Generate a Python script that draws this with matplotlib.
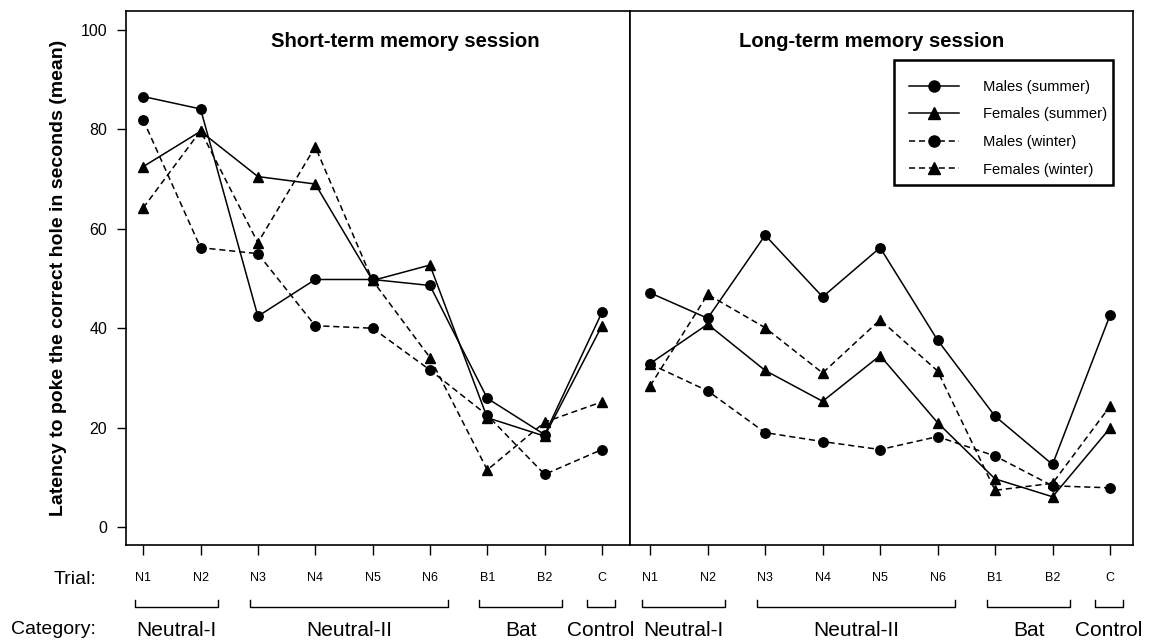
import matplotlib.pyplot as plt
from matplotlib.lines import Line2D
from matplotlib.patches import Rectangle

plt.rcParams['font.family'] = ['Liberation Sans', 'DejaVu Sans']

# Trials and categories
trials = ['N1', 'N2', 'N3', 'N4', 'N5', 'N6', 'B1', 'B2', 'C']
categories = ['Neutral-I', 'Neutral-II', 'Bat', 'Control']
category_trials = [[0, 1], [2, 3, 4, 5], [6, 7], [8]]

# Mean latency (s), short-term memory session
short_males_summer = [86.6, 84.1, 42.4, 49.8, 49.8, 48.6, 25.9, 18.6, 43.2]
short_females_summer = [72.5, 79.6, 70.5, 69.0, 49.6, 52.7, 22.0, 18.3, 40.5]
short_males_winter = [81.9, 56.2, 55.0, 40.5, 40.0, 31.6, 22.5, 10.6, 15.6]
short_females_winter = [64.2, 79.7, 57.2, 76.5, 49.6, 34.1, 11.5, 21.1, 25.2]

# Mean latency (s), long-term memory session
long_males_summer = [47.1, 42.0, 58.7, 46.3, 56.2, 37.6, 22.3, 12.6, 42.6]
long_females_summer = [32.9, 40.8, 31.5, 25.3, 34.5, 21.0, 9.7, 6.1, 19.9]
long_males_winter = [32.8, 27.4, 19.0, 17.2, 15.6, 18.2, 14.3, 8.3, 7.9]
long_females_winter = [28.4, 46.8, 40.1, 31.0, 41.7, 31.4, 7.4, 8.8, 24.3]

series_labels = ['Males (summer)', 'Females (summer)', 'Males (winter)', 'Females (winter)']
series_marker = ['o', '^', 'o', '^']
series_style = ['-', '-', (0, (4, 2.5)), (0, (4, 2.5))]

panels = [
    ('Short-term memory session',
     [short_males_summer, short_females_summer, short_males_winter, short_females_winter]),
    ('Long-term memory session',
     [long_males_summer, long_females_summer, long_males_winter, long_females_winter]),
]

fig = plt.figure(figsize=(11.51, 6.42), dpi=100)
gs = fig.add_gridspec(1, 2, left=126 / 1151, right=1133 / 1151,
                      bottom=1 - 545 / 642, top=1 - 11 / 642, wspace=0)
axes = [fig.add_subplot(gs[0, 0]), fig.add_subplot(gs[0, 1])]
xlims = [(-0.30, 8.48), (-0.36, 8.40)]
title_x = [0.554, 0.481]

x = list(range(len(trials)))
for i, (ax, (title, series)) in enumerate(zip(axes, panels)):
    for vals, lab, mk, ls in zip(series, series_labels, series_marker, series_style):
        ax.plot(x, vals, color='black', linestyle=ls, linewidth=1.1,
                marker=mk, markersize=7 if mk == '^' else 6.8, label=lab)
    ax.set_xlim(*xlims[i])
    ax.set_ylim(-3.6, 103.8)
    ax.set_xticks(x)
    ax.set_xticklabels(trials, fontsize=9)
    ax.tick_params(axis='x', direction='out', length=7.5, width=1.0, pad=12)
    for sp in ax.spines.values():
        sp.set_linewidth(1.2)
    ax.text(title_x[i], 0.942, title, transform=ax.transAxes, ha='center',
            va='center', fontsize=14.6, fontweight='bold')

    # category brackets under the trial labels
    tr = ax.get_xaxis_transform()
    y_top, y_bot = -0.103, -0.117
    for name, idx in zip(categories, category_trials):
        if len(idx) == 1:
            lo, hi = idx[0] - 0.26, idx[-1] + 0.23
        else:
            lo, hi = idx[0] - 0.14, idx[-1] + 0.31
        ax.plot([lo, lo, hi, hi], [y_top, y_bot, y_bot, y_top], color='black',
                linewidth=1.0, transform=tr, clip_on=False)
        ax.text((lo + hi) / 2, -0.16, name, transform=tr, ha='center',
                va='center', fontsize=15)

axes[0].set_yticks([0, 20, 40, 60, 80, 100])
axes[0].tick_params(axis='y', direction='out', length=6.5, width=1.0, pad=7,
                    labelsize=11.5)
axes[0].set_ylabel('Latency to poke the correct hole in seconds (mean)',
                   fontsize=14, fontweight='bold', labelpad=10)
axes[1].tick_params(axis='y', left=False, labelleft=False)

fig.text(96 / 1151, 1 - 580 / 642, 'Trial:', ha='right', va='center', fontsize=14)
fig.text(96 / 1151, 1 - 629 / 642, 'Category:', ha='right', va='center', fontsize=14)

# legend without its own frame, boxed separately
handles = [Line2D([], [], color='black', linestyle=ls, linewidth=1.1, marker=mk,
                  markersize=8)
           for mk, ls in zip(series_marker, series_style)]
axes[1].legend(handles, series_labels, loc='upper left',
               bbox_to_anchor=(0.555, 0.871), borderaxespad=0, borderpad=0,
               fontsize=10.6, frameon=False, handlelength=3.4, handletextpad=1.6,
               labelspacing=0.92)
axes[1].add_patch(Rectangle((0.525, 0.674), 0.435, 0.234, transform=axes[1].transAxes,
                            fill=False, edgecolor='black', linewidth=1.8, zorder=5))

fig.savefig('out.png', dpi=100)
